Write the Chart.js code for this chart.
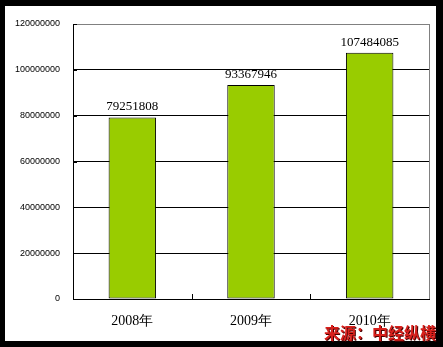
<!DOCTYPE html>
<html>
<head>
<meta charset="utf-8">
<script src="https://cdn.jsdelivr.net/npm/chart.js@4"></script>
<style>
  html, body { margin: 0; padding: 0; background: #000; }
  #wrap { width: 443px; height: 347px; }
</style>
</head>
<body>
<div id="wrap"><canvas id="chart" width="443" height="347"></canvas></div>
<script>
const years = ["2008年", "2009年", "2010年"];
const values = [79251808, 93367946, 107484085];
const yTicks = [0, 20000000, 40000000, 60000000, 80000000, 100000000, 120000000];
const sourceText = "来源：中经纵横";

// black frame + white card behind the chart
const framePlugin = {
  id: "frame",
  beforeDraw(chart) {
    const c = chart.ctx;
    c.save();
    c.fillStyle = "#000";
    c.fillRect(0, 0, chart.width, chart.height);
    c.fillStyle = "#fff";
    c.fillRect(5, 6, 431, 335);
    c.restore();
  },
  afterDraw(chart) {
    const c = chart.ctx;
    const a = chart.chartArea;
    const x = chart.scales.x;
    const y = chart.scales.y;
    c.save();
    // gray right edge
    c.strokeStyle = "#808080";
    c.lineWidth = 1;
    c.beginPath();
    c.moveTo(Math.round(a.right) + 0.5, a.top);
    c.lineTo(Math.round(a.right) + 0.5, a.bottom);
    c.stroke();
    // inside ticks
    c.strokeStyle = "#000";
    c.beginPath();
    y.ticks.forEach((t) => {
      const py = Math.round(y.getPixelForValue(t.value)) + 0.5;
      c.moveTo(a.left, py);
      c.lineTo(a.left + 4, py);
    });
    for (let i = 1; i < years.length; i++) {
      const px = Math.round((x.getPixelForValue(i - 1) + x.getPixelForValue(i)) / 2) + 0.5;
      c.moveTo(px, a.bottom);
      c.lineTo(px, a.bottom - 5);
    }
    c.stroke();
    // value labels
    c.fillStyle = "#000";
    c.font = "13px 'Liberation Serif'";
    c.textAlign = "center";
    c.textBaseline = "bottom";
    const meta = chart.getDatasetMeta(0);
    meta.data.forEach((bar, i) => {
      c.fillText(String(values[i]), bar.x, bar.y - 4);
    });
    // source
    c.font = "bold 16px 'Noto Sans CJK SC'";
    c.textAlign = "right";
    c.textBaseline = "alphabetic";
    c.fillStyle = "#4a0000";
    c.fillText(sourceText, 437, 340);
    c.fillStyle = "#d8201c";
    c.fillText(sourceText, 436, 339);
    c.restore();
  },
};

new Chart(document.getElementById("chart"), {
  type: "bar",
  data: {
    labels: years,
    datasets: [{
      data: values,
      backgroundColor: "#99cc00",
      borderColor: "#000",
      borderWidth: 1,
      borderSkipped: false,
      categoryPercentage: 1,
      barPercentage: 0.4,
    }],
  },
  options: {
    responsive: false,
    animation: false,
    devicePixelRatio: 1,
    layout: { padding: { top: 24, right: 14, left: 0, bottom: 0 } },
    plugins: { legend: { display: false }, tooltip: { enabled: false } },
    scales: {
      x: {
        grid: { display: false, drawTicks: false },
        border: { color: "#000", width: 1 },
        ticks: { color: "#000", padding: 14, font: { family: "'Liberation Serif'", size: 14 } },
        afterFit(s) { s.height = 48; },
      },
      y: {
        min: 0,
        max: 120000000,
        afterBuildTicks(s) { s.ticks = yTicks.map((v) => ({ value: v })); },
        grid: {
          drawTicks: false,
          color: (ctx) => (ctx.tick && ctx.tick.value === 120000000 ? "#808080" : "#000"),
        },
        border: { color: "#000", width: 1 },
        ticks: {
          color: "#000",
          padding: 13,
          font: { family: "'Liberation Sans'", size: 9 },
          callback: (v) => String(v),
        },
        afterFit(s) { s.width = 73; },
      },
    },
  },
  plugins: [framePlugin],
});
</script>
</body>
</html>
